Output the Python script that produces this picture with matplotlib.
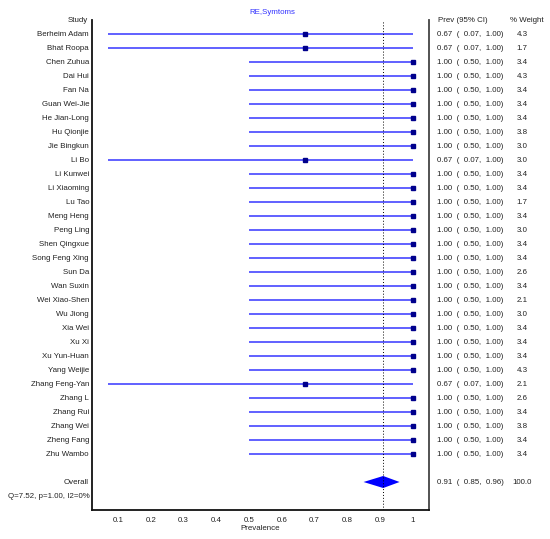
# forest plot of prevalence, RE model
import matplotlib
matplotlib.use('Agg')
import matplotlib.pyplot as plt
from matplotlib import transforms
import numpy as np

studies = ['Berheim Adam', 'Bhat Roopa', 'Chen Zuhua', 'Dai Hui', 'Fan Na',
           'Guan Wei-Jie', 'He Jian-Long', 'Hu Qionjie', 'Jie Bingkun', 'Li Bo',
           'Li Kunwei', 'Li Xiaoming', 'Lu Tao', 'Meng Heng', 'Peng Ling',
           'Shen Qingxue', 'Song Feng Xing', 'Sun Da', 'Wan Suxin', 'Wei Xiao-Shen',
           'Wu Jiong', 'Xia Wei', 'Xu Xi', 'Xu Yun-Huan', 'Yang Weijie',
           'Zhang Feng-Yan', 'Zhang L', 'Zhang Rui', 'Zhang Wei', 'Zheng Fang',
           'Zhu Wambo']
prev = [0.67, 0.67, 1.00, 1.00, 1.00, 1.00, 1.00, 1.00, 1.00, 0.67,
        1.00, 1.00, 1.00, 1.00, 1.00, 1.00, 1.00, 1.00, 1.00, 1.00,
        1.00, 1.00, 1.00, 1.00, 1.00, 0.67, 1.00, 1.00, 1.00, 1.00, 1.00]
lower = [0.07, 0.07, 0.50, 0.50, 0.50, 0.50, 0.50, 0.50, 0.50, 0.07,
         0.50, 0.50, 0.50, 0.50, 0.50, 0.50, 0.50, 0.50, 0.50, 0.50,
         0.50, 0.50, 0.50, 0.50, 0.50, 0.07, 0.50, 0.50, 0.50, 0.50, 0.50]
upper = [1.00] * 31
weights = [4.3, 1.7, 3.4, 4.3, 3.4, 3.4, 3.4, 3.8, 3.0, 3.0,
           3.4, 3.4, 1.7, 3.4, 3.0, 3.4, 3.4, 2.6, 3.4, 2.1,
           3.0, 3.4, 3.4, 3.4, 4.3, 2.1, 2.6, 3.4, 3.8, 3.4, 3.4]

overall_prev = 0.91
overall_lower = 0.85
overall_upper = 0.96
overall_weight = 100.0
het_text = 'Q=7.52, p=1.00, I2=0%'
title = 'RE,Symtoms'
xticks = [0.1, 0.2, 0.3, 0.4, 0.5, 0.6, 0.7, 0.8, 0.9, 1.0]
xtick_labels = ['0.1', '0.2', '0.3', '0.4', '0.5', '0.6', '0.7', '0.8', '0.9', '1']

plt.rcParams['font.family'] = ['Liberation Sans', 'DejaVu Sans']
fs = 5.7
tc = '#222222'

W, H = 550, 539
fig = plt.figure(figsize=(W / 100, H / 100), dpi=100)
ax = fig.add_axes([92 / W, 1 - 510 / H, (429 - 92) / W, (510 - 20) / H])

n = len(studies)
rows = np.arange(n)
overall_row = n + 1
het_row = n + 2

# study lines and points
for i in range(n):
    ax.plot([lower[i], upper[i]], [rows[i], rows[i]], color='#3535ff', lw=1.1,
            solid_capstyle='butt')
ax.plot(prev, rows, 's', color='#00008c', markersize=3.0, linestyle='none')

# pooled diamond
dh = 0.43
ax.fill([overall_lower, overall_prev, overall_upper, overall_prev],
        [overall_row, overall_row - dh, overall_row, overall_row + dh],
        color='#0000ff', lw=0)
ax.axvline(overall_prev, color='black', lw=0.7, linestyle=(0, (1, 2)))

ax.set_xlim(0.02, 1.05)
ax.set_ylim(n + 3, -1)
ax.set_yticks([])
ax.set_xticks(xticks)
ax.set_xticklabels(xtick_labels, fontsize=fs, color=tc)
ax.tick_params(axis='x', length=0, pad=5)
ax.set_xlabel('Prevalence', fontsize=fs, labelpad=1, color=tc)
ax.spines['top'].set_visible(False)
for s in ['left', 'bottom']:
    ax.spines[s].set_linewidth(1.3)
    ax.spines[s].set_color('#111111')
ax.spines['right'].set_linewidth(1.3)
ax.spines['right'].set_color('#444444')

# text columns (x in figure pixels, y in data rows)
tr = transforms.blended_transform_factory(fig.transFigure, ax.transData)
def px(x):
    return x / W

def put(x, y, s, ha):
    ax.text(px(x), y, s, transform=tr, ha=ha, va='center', fontsize=fs, color=tc)

put(88, -1, 'Study', 'right')
put(438, -1, 'Prev (95% CI)', 'left')
put(527, -1, '% Weight', 'center')
for i in range(n):
    put(89, rows[i], studies[i], 'right')
    put(437, rows[i], '%.2f  (  %.2f,  %.2f)' % (prev[i], lower[i], upper[i]), 'left')
    put(522, rows[i], '%.1f' % weights[i], 'center')

put(89, overall_row, 'Overall', 'right')
put(437, overall_row, '%.2f  (  %.2f,  %.2f)' % (overall_prev, overall_lower, overall_upper), 'left')
put(522, overall_row, '%.1f' % overall_weight, 'center')
put(90, het_row, het_text, 'right')

fig.text(px(272), 1 - 12 / H, title, ha='center', va='center', fontsize=fs, color='#3333ff')

fig.savefig('out.png', dpi=100, facecolor='white')
